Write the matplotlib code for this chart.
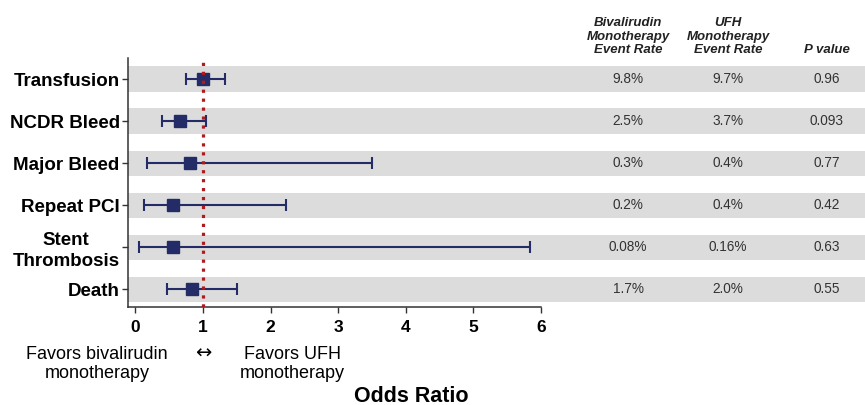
import matplotlib.pyplot as plt
from matplotlib.patches import Rectangle
from matplotlib.transforms import blended_transform_factory

plt.rcParams['font.family'] = ['Liberation Sans', 'DejaVu Sans']

# data
outcomes = ['Transfusion', 'NCDR Bleed', 'Major Bleed', 'Repeat PCI', 'Stent\nThrombosis', 'Death']
odds = [1.00, 0.66, 0.80, 0.56, 0.55, 0.83]
ci_low = [0.75, 0.40, 0.17, 0.13, 0.05, 0.46]
ci_high = [1.33, 1.05, 3.50, 2.23, 5.84, 1.50]
biv_rate = ['9.8%', '2.5%', '0.3%', '0.2%', '0.08%', '1.7%']
ufh_rate = ['9.7%', '3.7%', '0.4%', '0.4%', '0.16%', '2.0%']
p_values = ['0.96', '0.093', '0.77', '0.42', '0.63', '0.55']
headers = ['Bivalirudin\nMonotherapy\nEvent Rate', 'UFH\nMonotherapy\nEvent Rate', 'P value']
x_ticks = [0, 1, 2, 3, 4, 5, 6]

navy = '#232c66'
band = '#dcdcdc'

fig = plt.figure(figsize=(8.65, 4.05), dpi=100)
ax = fig.add_axes([128 / 865, 1 - 307 / 405, (541 - 128) / 865, (307 - 58) / 405])

rows = list(range(len(outcomes)))
ax.set_xlim(-0.11, 6.0)
ax.set_ylim(5.42, -0.5)

# grey bands stretch across plot and table
trans_band = blended_transform_factory(fig.transFigure, ax.transData)
x0 = ax.get_position().x0
for r in rows:
    ax.add_patch(Rectangle((x0, r - 0.3), 1 - x0, 0.6, transform=trans_band,
                           facecolor=band, edgecolor='none', clip_on=False, zorder=0))

ax.axvline(1, color='#b0191e', lw=2.3, ls=(0, (1, 1.8)), zorder=4)

err = [[o - lo for o, lo in zip(odds, ci_low)], [hi - o for o, hi in zip(odds, ci_high)]]
ax.errorbar(odds, rows, xerr=err, fmt='s', color=navy, ecolor=navy, ms=9,
            elinewidth=1.5, capsize=4.5, capthick=1.5, zorder=3)

ax.set_yticks(rows)
ax.set_yticklabels(outcomes, fontsize=13.5, fontweight='bold')
for lab in ax.get_yticklabels():
    lab.set_multialignment('center')
    lab.set_linespacing(1.25)
ax.set_xticks(x_ticks)
ax.set_xticklabels([str(t) for t in x_ticks], fontsize=12.5, fontweight='bold')
ax.tick_params(axis='both', length=4, width=1, color='#333333', pad=2)
ax.tick_params(axis='x', pad=5)
for s in ['top', 'right']:
    ax.spines[s].set_visible(False)
for s in ['left', 'bottom']:
    ax.spines[s].set_linewidth(1.1)
    ax.spines[s].set_color('#333333')

# table columns on the right
col_x = [628 / 865, 728 / 865, 827 / 865]
for cx, col in zip(col_x, [biv_rate, ufh_rate, p_values]):
    for r, val in zip(rows, col):
        ax.text(cx, r, val, transform=trans_band, ha='center', va='center',
                fontsize=9.8, color='#333333')
for cx, h in zip(col_x, headers):
    fig.text(cx, 1 - 56 / 405, h, ha='center', va='bottom', fontsize=9.5,
             fontweight='bold', style='italic', color='#222222', linespacing=1.15)

# favour annotations below axis
fig.text(97 / 865, 1 - 364 / 405, 'Favors bivalirudin\nmonotherapy', ha='center', va='center',
         fontsize=13, linespacing=1.2)
fig.text(203 / 865, 1 - 353 / 405, '\u2194', ha='center', va='center', fontsize=14,
         family=['DejaVu Sans'])
fig.text(292 / 865, 1 - 364 / 405, 'Favors UFH\nmonotherapy', ha='center', va='center',
         fontsize=13, linespacing=1.2)
fig.text(411 / 865, 1 - 396 / 405, 'Odds Ratio', ha='center', va='center',
         fontsize=15.5, fontweight='bold')

fig.savefig('out.png', dpi=100)
